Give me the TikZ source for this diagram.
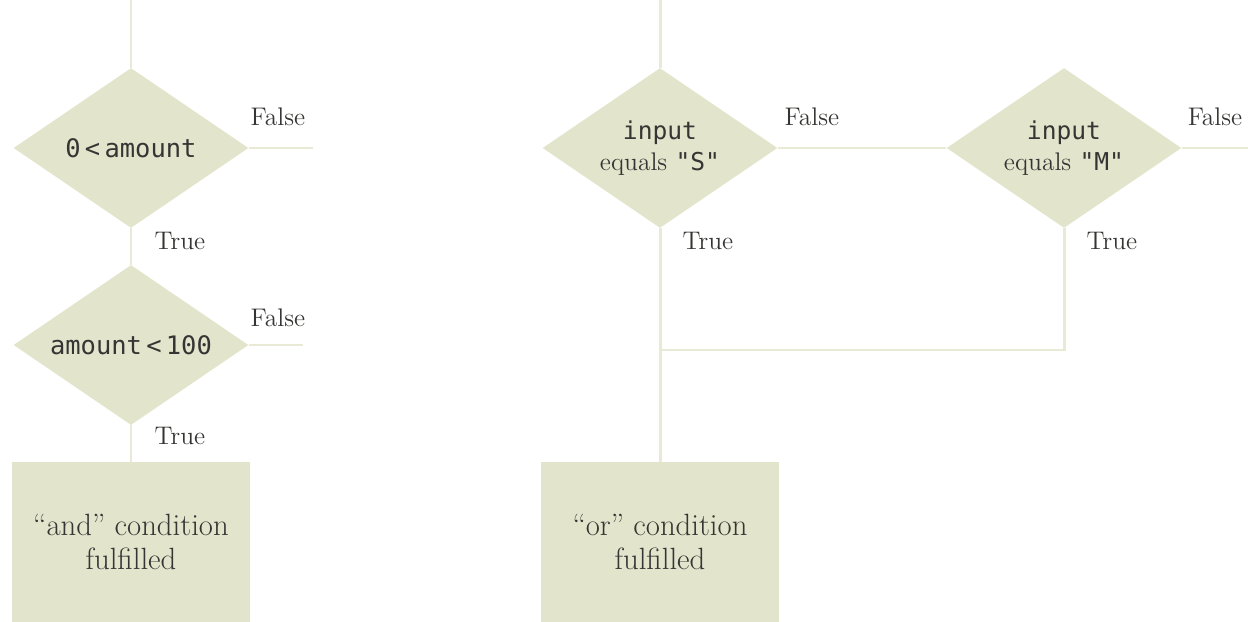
\documentclass[tikz,border=0pt]{standalone}
\usepackage{fontspec}
\newfontfamily\codefont{DejaVu Sans Mono}
\usetikzlibrary{shapes.geometric}
\definecolor{boxfill}{HTML}{E2E5CC}
\definecolor{linecol}{HTML}{E8EAD6}
\definecolor{inkcol}{HTML}{353533}
\tikzset{
  test/.style={diamond,fill=boxfill,aspect=1.47,minimum width=4.7cm,minimum height=3.2cm,inner sep=1pt,align=center,text=inkcol,font=\fontsize{14.5}{18}\selectfont},
  outcome/.style={rectangle,fill=boxfill,minimum width=4.76cm,minimum height=3.2cm,align=center,text=inkcol,font=\fontsize{17.5}{19}\selectfont},
  branch/.style={text=inkcol,font=\fontsize{14.5}{16}\selectfont},
  flow/.style={draw=linecol,line width=1.7pt}
}
\newcommand{\code}[1]{{\codefont\fontsize{14}{16}\selectfont #1}}
\newcommand{\bigcode}[1]{{\codefont\fontsize{14.5}{16}\selectfont #1}}

\begin{document}
\begin{tikzpicture}[x=0.02cm,y=-0.02cm]
\useasboundingbox (0,0) rectangle (1248,622);

% "and" part
\coordinate (andtop) at (131,0);
\node[test] (lower) at (131,148) {\bigcode{0\,<\,amount}};
\node[test] (upper) at (131,345) {\bigcode{amount\,<\,100}};
\node[outcome] (andbox) at (131,542) {``and'' condition\\fulfilled};
\coordinate (lowerout) at (313,148);
\coordinate (upperout) at (303,345);
\draw[flow] (andtop) -- (lower.north);
\draw[flow] (lower.south) -- (upper.north);
\draw[flow] (upper.south) -- (andbox.north);
\draw[flow] (lower.east) -- (lowerout);
\draw[flow] (upper.east) -- (upperout);
\node[branch] (lowerfalse) at (278,117) {False};
\node[branch] (upperfalse) at (278,318) {False};
\node[branch] (lowertrue) at (180,241) {True};
\node[branch] (uppertrue) at (180,436) {True};

% "or" part
\coordinate (ortop) at (660,0);
\node[test] (isS) at (660,148) {\code{input}\\equals \code{"S"}};
\node[test] (isM) at (1064,148) {\code{input}\\equals \code{"M"}};
\node[outcome] (orbox) at (660,542) {``or'' condition\\fulfilled};
\coordinate (merge) at (660,350);
\coordinate (isMout) at (1248,148);
\draw[flow] (ortop) -- (isS.north);
\draw[flow] (isS.south) -- (orbox.north);
\draw[flow] (isS.east) -- (isM.west);
\draw[flow] (isM.east) -- (isMout);
\draw[flow] (isM.south) |- (merge);
\node[branch] (Sfalse) at (812,117) {False};
\node[branch] (Mfalse) at (1215,117) {False};
\node[branch] (Strue) at (708,241) {True};
\node[branch] (Mtrue) at (1112,241) {True};
\end{tikzpicture}
\end{document}
